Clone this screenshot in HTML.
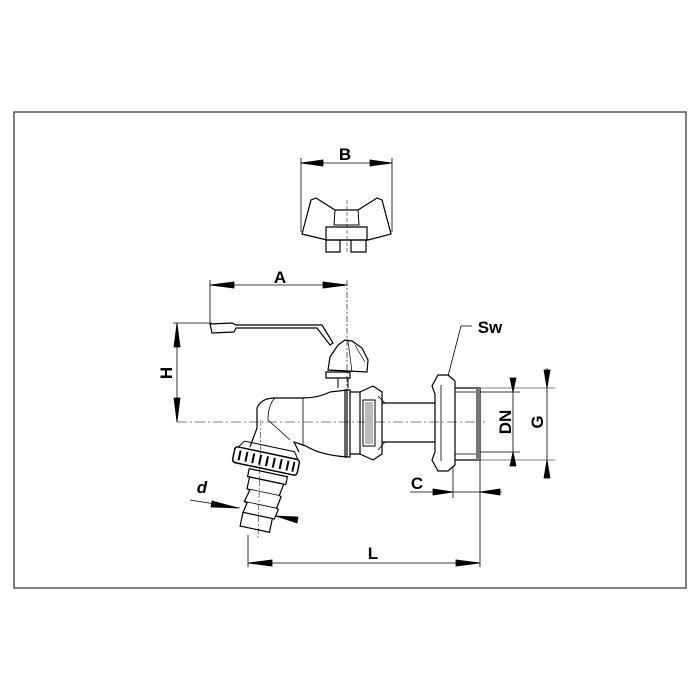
<!DOCTYPE html>
<html><head><style>html,body{margin:0;padding:0;background:#fff}svg{display:block}</style></head>
<body>
<svg width="700" height="700" viewBox="0 0 700 700" xmlns="http://www.w3.org/2000/svg" font-family="Liberation Sans, sans-serif" font-weight="bold">
<rect x="14" y="112" width="672" height="476" fill="none" stroke="#555" stroke-width="1.5"/>
<g stroke="#000" fill="none" stroke-width="0.8">
<!-- B handle -->
<line x1="301" y1="158" x2="301" y2="232"/><line x1="392" y1="158" x2="392" y2="232"/>
<line x1="301" y1="163" x2="392" y2="163"/>
<path d="M301,163 l22,-3 v6 z M392,163 l-22,-3 v6 z" fill="#000"/>
<path d="M302,234 L311,200 L316,198 L335,210 L358,210 L377,198 L382,200 L391,234 L368,240 L327,240 Z" stroke-width="1.2"/>
<path d="M335,210 L334,225 L359,225 L358,210" stroke-width="1"/>
<path d="M326,227 L367,227 L367,240 L326,240 Z" stroke-width="1.2"/>
<path d="M326,240 v12 h14 v-12 M351,240 v12 h15 v-12" stroke-width="1.2"/>
<line x1="347" y1="200" x2="347" y2="252" stroke-dasharray="4,2" stroke-width="0.5"/>
<!-- A -->
<line x1="210" y1="280" x2="210" y2="325"/>
<line x1="347" y1="280" x2="347" y2="395" stroke-dasharray="6,2,2,2" stroke-width="0.6"/>
<line x1="210" y1="285" x2="347" y2="285"/>
<path d="M210,285 l24,-3 v6 z M347,285 l-24,-3 v6 z" fill="#000"/>
<!-- H -->
<line x1="173" y1="323" x2="212" y2="323"/>
<line x1="177" y1="323" x2="177" y2="422"/>
<path d="M177,323 l-3,24 h6 z M177,422 l-3,-24 h6 z" fill="#000"/>
<line x1="177" y1="422" x2="485" y2="422" stroke-dasharray="10,3,2,3" stroke-width="0.6"/>
<!-- lever -->
<path d="M210,324 L212,333 L234,332 L236,328 L317,328 L330,345 L333,343 L322,325 L236,325 L232,323 Z" stroke-width="1.2"/>
<!-- cap -->
<path d="M328,370 L330,357 L338,345 L345,340 L352,341 L362,348 L368,360 L367,372 Z" stroke-width="1.2"/>
<path d="M348,341 L352,372 M355,345 L365,362" stroke-width="0.7"/>
<path d="M326,372 h24 v6 h-24 z" stroke-width="1.2"/>
<path d="M338,378 v10 M348,378 v10" stroke-width="1"/>
<!-- elbow + body -->
<path d="M257,408 Q261,398 275,398 L303,398 Q318,398 330,392 L347,390 L347,457 Q320,455 306,446 L294,442 L299,452" stroke-width="1.2"/>
<path d="M257,408 L257,428 L250,447" stroke-width="1.2"/>
<path d="M275,398 Q268,405 268,420 L290,440" stroke-width="0.8"/>
<path d="M303,398 V446" stroke-width="0.8"/>
<path d="M261,420 L258,538" stroke-dasharray="6,2,2,2" stroke-width="0.5"/>
<!-- valve join -->
<rect x="345" y="390" width="5" height="67" stroke-width="1.2"/>
<path d="M350,392 h10 v62 h-10" stroke-width="1.2"/>
<path d="M360,392 L373,386 L382,392 L382,454 L373,460 L360,454" stroke-width="1.2"/>
<rect x="363" y="400" width="12" height="46" stroke-width="1"/>
<path d="M365,402 h8 v42 h-8z" fill="#bbb" stroke="none"/>
<!-- pipe -->
<path d="M382,403 H435 M382,442 H435" stroke-width="1.2"/>
<path d="M378,396 L385,403 M378,450 L385,442" stroke-width="0.8"/>
<!-- hex -->
<path d="M438,375 L448,375 L455,381 L455,465 L448,471 L438,471 L432,460 L435,452 L435,394 L432,386 Z" stroke-width="1.2"/>
<path d="M441,385 V461" stroke-width="0.8"/>
<!-- thread -->
<path d="M455,388 H480 V460 H455" stroke-width="1.2"/>
<path d="M455,392 H480 M455,454 H480" stroke-width="0.8"/>
<rect x="476" y="388" width="4" height="72" fill="#777" stroke="none"/>
<!-- nut -->
<g transform="rotate(12 266 461)">
<rect x="233" y="453" width="66" height="16" rx="3" stroke-width="1.5"/>
<path d="M239,456 v10 M246,456 v10 M253,456 v10 M260,456 v10 M267,456 v10 M274,456 v10 M281,456 v10 M288,456 v10 M294,456 v10" stroke-width="2"/>
<path d="M236,453 L241,446 L292,446 L297,453" stroke-width="1"/>
</g>
<!-- barb -->
<g transform="rotate(12 262 500)">
<path d="M243,472 H282 V480 H243 Z" stroke-width="1.2"/>
<path d="M245,480 L280,480 L278,492 L280,493 L278,505 L280,506 L278,516 L246,516 L248,506 L245,505 L248,493 L245,492 Z" stroke-width="1.2"/>
<path d="M246,492 H279 M246,505 H279" stroke-width="0.8"/>
<path d="M246,516 V530 H276 V516" stroke-width="1.2"/>
</g>
<!-- d -->
<line x1="190" y1="500" x2="240" y2="508"/>
<line x1="275" y1="516" x2="298" y2="521"/>
<path d="M238,508 l-26,-7 l-1,6 z M276,516 l22,1 l-1,6 z" fill="#000"/>
<!-- Sw -->
<path d="M448,376 L461,326 L472,326" stroke-width="0.8"/>
<!-- DN / G -->
<line x1="480" y1="392" x2="520" y2="392"/><line x1="480" y1="452" x2="520" y2="452"/>
<line x1="480" y1="388" x2="555" y2="388" stroke-width="0.6"/><line x1="480" y1="460" x2="555" y2="460" stroke-width="0.6"/>
<line x1="513" y1="380" x2="513" y2="462"/>
<path d="M513,392 l-3,-14 h6 z M513,452 l-3,14 h6 z" fill="#000"/>
<line x1="547" y1="368" x2="547" y2="475"/>
<path d="M547,388 l-3,-18 h6 z M547,460 l-3,18 h6 z" fill="#000"/>
<!-- C -->
<line x1="453" y1="466" x2="453" y2="498"/>
<line x1="480" y1="460" x2="480" y2="567"/>
<line x1="410" y1="492" x2="502" y2="492"/>
<path d="M453,492 l-20,-3 v6 z M480,492 l20,-3 v6 z" fill="#000"/>
<!-- L -->
<line x1="248" y1="535" x2="248" y2="567"/>
<line x1="248" y1="563" x2="480" y2="563"/>
<path d="M248,563 l24,-3 v6 z M480,563 l-24,-3 v6 z" fill="#000"/>
</g>
<g font-size="17" fill="#000">
<text x="345" y="160" text-anchor="middle">B</text>
<text x="280" y="283" text-anchor="middle">A</text>
<text x="373" y="559" text-anchor="middle">L</text>
<text x="417" y="489" text-anchor="middle">C</text>
<text x="490" y="333" text-anchor="middle">Sw</text>
<text x="202" y="493" text-anchor="middle" font-style="italic">d</text>
<text transform="translate(172,373) rotate(-90)" text-anchor="middle">H</text>
<text transform="translate(511,422) rotate(-90)" text-anchor="middle">DN</text>
<text transform="translate(543,422) rotate(-90)" text-anchor="middle">G</text>
</g>
</svg>
</body></html>
